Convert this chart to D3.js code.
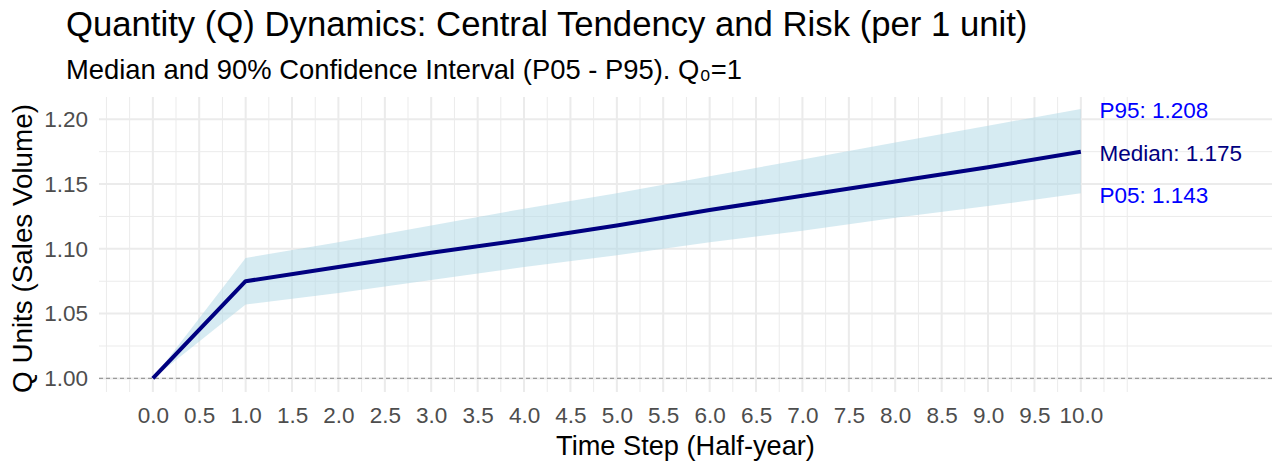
<!DOCTYPE html>
<html>
  <head>
    <script type="text/javascript" src="https://cdn.jsdelivr.net/npm/d3@7"></script>
    <style type="text/css">

html, body {
  margin: 0;
  background: #fff;
}

svg {
  display: block;
  font-family: "Liberation Sans", Arial, sans-serif;
}

.grid line {
  stroke: #ebebeb;
}

.axis text {
  fill: #4d4d4d;
  font-size: 22.5px;
}

    </style>
  </head>
  <body>
    <div id="chart"></div>
    <script type="text/javascript">

// time steps (half-years) and the simulated Q quantiles
var steps  = [0, 1, 2, 3, 4, 5, 6, 7, 8, 9, 10];
var median = [1.000, 1.075, 1.086, 1.097, 1.107, 1.118, 1.130, 1.141, 1.152, 1.163, 1.175];
var p95    = [1.000, 1.093, 1.105, 1.118, 1.131, 1.143, 1.156, 1.169, 1.182, 1.195, 1.208];
var p05    = [1.000, 1.057, 1.066, 1.076, 1.086, 1.095, 1.105, 1.114, 1.124, 1.133, 1.143];

var xTicks = d3.range(0, 10.01, 0.5);
var yTicks = [1.00, 1.05, 1.10, 1.15, 1.20];
var endLabels = [
  {name: "P95", value: p95[p95.length - 1], color: "blue"},
  {name: "Median", value: median[median.length - 1], color: "navy"},
  {name: "P05", value: p05[p05.length - 1], color: "blue"}
];

var width = 1277,
    height = 464;

var svg = d3.select("#chart").append("svg")
    .attr("width", width)
    .attr("height", height);

var x = d3.scaleLinear().domain([-0.58, 12.06]).range([99, 1272]);
var y = d3.scaleLinear().domain([0.9895, 1.2172]).range([392, 97]);

// minor breaks as ggplot makes them: halfway, plus one step outside
var xMinor = d3.range(-0.5, 10.51, 0.25);
var yMinor = d3.range(1.025, 1.2, 0.05);

var grid = svg.append("g").attr("class", "grid");

grid.selectAll("line.xminor")
    .data(xMinor)
  .enter().append("line")
    .attr("x1", function(d) { return x(d); })
    .attr("x2", function(d) { return x(d); })
    .attr("y1", y.range()[0])
    .attr("y2", y.range()[1])
    .attr("stroke-width", 1);

grid.selectAll("line.yminor")
    .data(yMinor)
  .enter().append("line")
    .attr("x1", x.range()[0])
    .attr("x2", x.range()[1])
    .attr("y1", function(d) { return y(d); })
    .attr("y2", function(d) { return y(d); })
    .attr("stroke-width", 1);

grid.selectAll("line.xmajor")
    .data(xTicks)
  .enter().append("line")
    .attr("x1", function(d) { return x(d); })
    .attr("x2", function(d) { return x(d); })
    .attr("y1", y.range()[0])
    .attr("y2", y.range()[1])
    .attr("stroke-width", 2);

grid.selectAll("line.ymajor")
    .data(yTicks)
  .enter().append("line")
    .attr("x1", x.range()[0])
    .attr("x2", x.range()[1])
    .attr("y1", function(d) { return y(d); })
    .attr("y2", function(d) { return y(d); })
    .attr("stroke-width", 2);

// baseline Q0 = 1
svg.append("line")
    .attr("x1", x.range()[0])
    .attr("x2", x.range()[1])
    .attr("y1", y(1))
    .attr("y2", y(1))
    .attr("stroke", "#9a9a9a")
    .attr("stroke-width", 1.1)
    .attr("stroke-dasharray", "4,3");

var band = d3.area()
    .x(function(d, i) { return x(steps[i]); })
    .y0(function(d, i) { return y(p05[i]); })
    .y1(function(d, i) { return y(p95[i]); });

svg.append("path")
    .datum(steps)
    .attr("d", band)
    .attr("fill", "lightblue")
    .attr("fill-opacity", 0.5);

var line = d3.line()
    .x(function(d, i) { return x(steps[i]); })
    .y(function(d) { return y(d); });

svg.append("path")
    .datum(median)
    .attr("d", line)
    .attr("fill", "none")
    .attr("stroke", "navy")
    .attr("stroke-width", 4)
    .attr("stroke-linejoin", "round");

svg.selectAll("text.endlabel")
    .data(endLabels)
  .enter().append("text")
    .attr("class", "endlabel")
    .attr("x", x(10.2))
    .attr("y", function(d) { return y(d.value); })
    .attr("dy", "0.42em")
    .attr("fill", function(d) { return d.color; })
    .style("font-size", "22.5px")
    .text(function(d) { return d.name + ": " + d.value.toFixed(3); });

// axes, no ticks or domain, like theme_minimal
var xAxis = svg.append("g")
    .attr("class", "axis")
    .attr("transform", "translate(0," + y.range()[0] + ")")
    .call(d3.axisBottom(x).tickValues(xTicks).tickSize(0).tickPadding(15)
      .tickFormat(d3.format(".1f")));

var yAxis = svg.append("g")
    .attr("class", "axis")
    .attr("transform", "translate(" + x.range()[0] + ",0)")
    .call(d3.axisLeft(y).tickValues(yTicks).tickSize(0).tickPadding(11)
      .tickFormat(d3.format(".2f")));

svg.selectAll(".axis .domain").remove();
svg.selectAll(".axis text").attr("font-family", null).attr("font-size", null);

svg.append("text")
    .attr("x", (x.range()[0] + x.range()[1]) / 2)
    .attr("y", 455)
    .attr("text-anchor", "middle")
    .style("font-size", "27.2px")
    .text("Time Step (Half-year)");

svg.append("text")
    .attr("transform", "translate(32," + ((y.range()[0] + y.range()[1]) / 2 + 4) + ") rotate(-90)")
    .attr("text-anchor", "middle")
    .style("font-size", "27.8px")
    .text("Q Units (Sales Volume)");

svg.append("text")
    .attr("x", 66)
    .attr("y", 36)
    .style("font-size", "34.7px")
    .text("Quantity (Q) Dynamics: Central Tendency and Risk (per 1 unit)");

svg.append("text")
    .attr("x", 66)
    .attr("y", 79)
    .style("font-size", "27.4px")
    .text("Median and 90% Confidence Interval (P05 - P95). Q\u2080=1");

    </script>
  </body>
</html>
